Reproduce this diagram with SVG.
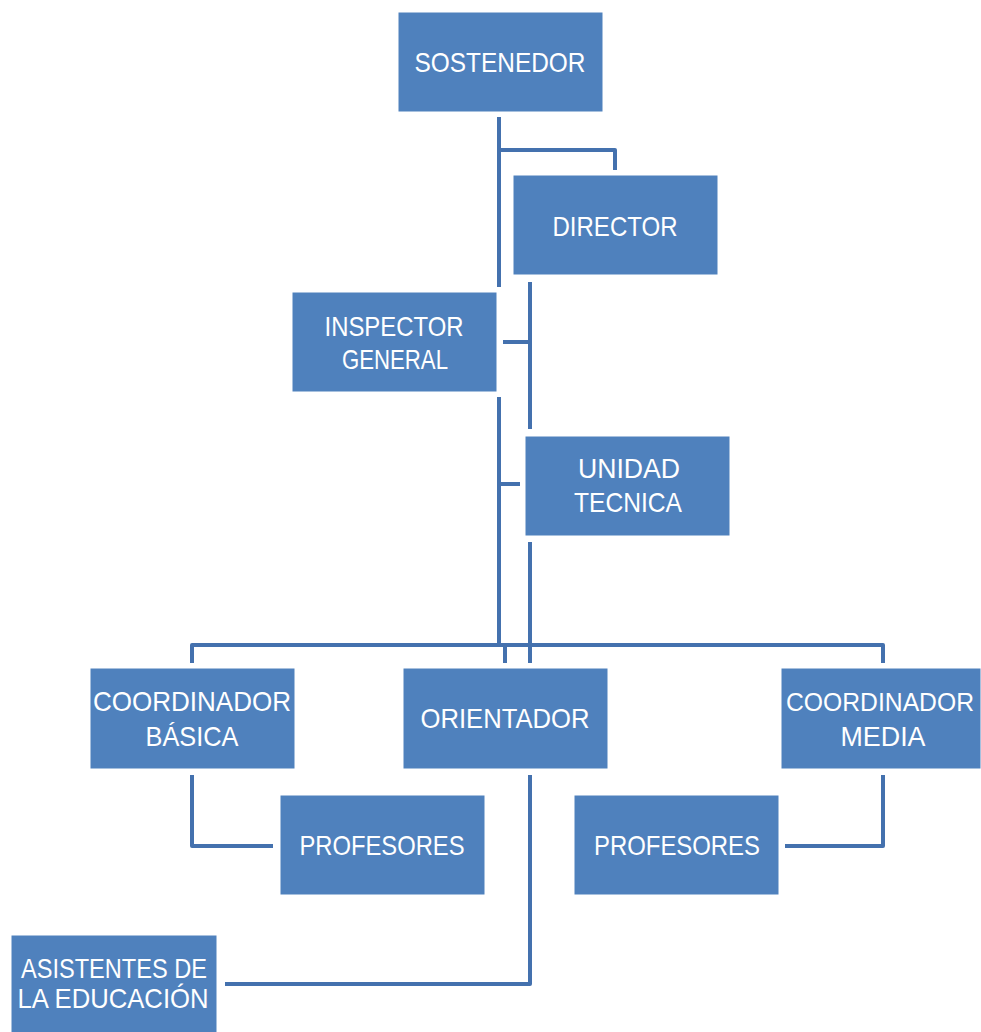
<svg xmlns="http://www.w3.org/2000/svg" width="981" height="1032" viewBox="0 0 981 1032">
<style>
.box{fill:#4f81bd;stroke:#ffffff;stroke-width:1}
.t{fill:#ffffff;font-family:"Liberation Sans",Arial,sans-serif;font-size:27.5px;text-anchor:middle}
.c{fill:none;stroke:#4471ae;stroke-width:4;stroke-linejoin:round;stroke-linecap:butt}
</style>
<rect width="981" height="1032" fill="#ffffff"/>
<g id="connectors">
<path class="c" d="M499,117 V287"/>
<path class="c" d="M499,150 H615 V170"/>
<path class="c" d="M530,282 V429"/>
<path class="c" d="M503,342 H530"/>
<path class="c" d="M499,397 V645"/>
<path class="c" d="M499,484 H520"/>
<path class="c" d="M530,542 V663"/>
<path class="c" d="M192,663 V645 H883 V663"/>
<path class="c" d="M505,645 V663"/>
<path class="c" d="M192,775 V846 H273"/>
<path class="c" d="M530,775 V984 H225"/>
<path class="c" d="M883,775 V846 H785"/>
</g>
<g id="sostenedor"><rect class="box" x="398" y="12" width="205" height="100"/><text class="t" x="500" y="72" textLength="171" lengthAdjust="spacingAndGlyphs">SOSTENEDOR</text></g>
<g id="director"><rect class="box" x="513" y="175" width="205" height="100"/><text class="t" x="615" y="236" textLength="125" lengthAdjust="spacingAndGlyphs">DIRECTOR</text></g>
<g id="inspector"><rect class="box" x="292" y="292" width="205" height="100"/><text class="t" x="394" y="336" textLength="139" lengthAdjust="spacingAndGlyphs">INSPECTOR</text><text class="t" x="395" y="369" textLength="106" lengthAdjust="spacingAndGlyphs">GENERAL</text></g>
<g id="unidad"><rect class="box" x="525" y="436" width="205" height="100"/><text class="t" x="629" y="478" textLength="102" lengthAdjust="spacingAndGlyphs">UNIDAD</text><text class="t" x="628" y="512" textLength="108" lengthAdjust="spacingAndGlyphs">TECNICA</text></g>
<g id="coord-basica"><rect class="box" x="90" y="668" width="205" height="101"/><text class="t" x="192" y="711" textLength="198" lengthAdjust="spacingAndGlyphs">COORDINADOR</text><text class="t" x="192" y="746" textLength="93" lengthAdjust="spacingAndGlyphs">BÁSICA</text></g>
<g id="orientador"><rect class="box" x="403" y="668" width="205" height="101"/><text class="t" x="505" y="728" textLength="169" lengthAdjust="spacingAndGlyphs">ORIENTADOR</text></g>
<g id="coord-media"><rect class="box" x="781" y="668" width="200" height="101"/><text class="t" x="880" y="711" style="font-size:25.5px" textLength="188" lengthAdjust="spacingAndGlyphs">COORDINADOR</text><text class="t" x="883" y="746" textLength="85" lengthAdjust="spacingAndGlyphs">MEDIA</text></g>
<g id="profesores-1"><rect class="box" x="280" y="795" width="205" height="100"/><text class="t" x="382" y="855" textLength="165" lengthAdjust="spacingAndGlyphs">PROFESORES</text></g>
<g id="profesores-2"><rect class="box" x="574" y="795" width="205" height="100"/><text class="t" x="677" y="855" textLength="166" lengthAdjust="spacingAndGlyphs">PROFESORES</text></g>
<g id="asistentes"><rect class="box" x="11" y="935" width="206" height="100"/><text class="t" x="114" y="978" textLength="186" lengthAdjust="spacingAndGlyphs">ASISTENTES DE</text><text class="t" x="113" y="1008" textLength="191" lengthAdjust="spacingAndGlyphs">LA EDUCACIÓN</text></g>
</svg>
